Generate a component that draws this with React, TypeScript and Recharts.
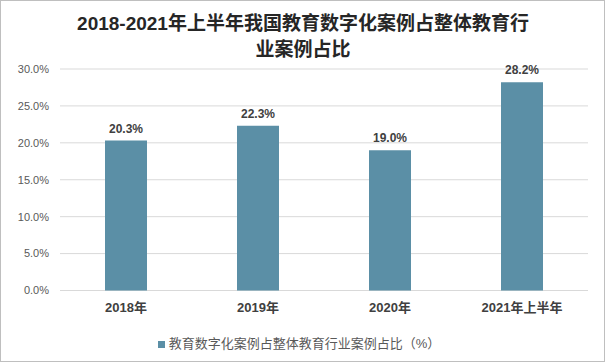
import React from 'react';
import { BarChart, Bar, XAxis, YAxis, CartesianGrid, Legend, LabelList } from 'recharts';

const categories = ['2018年', '2019年', '2020年', '2021年上半年'];
const shareValues = [20.3, 22.3, 19.0, 28.2];
const yTicks = [0, 5, 10, 15, 20, 25, 30];
const seriesName = '教育数字化案例占整体教育行业案例占比（%）';
const titleLines = ['2018-2021年上半年我国教育数字化案例占整体教育行', '业案例占比'];

const chartData = categories.map((name, i) => ({ name, value: shareValues[i] }));

const FONT = '"Liberation Sans", "Noto Sans CJK SC", sans-serif';
const BAR_COLOR = '#5b8fa6';

const App: React.FC = () => {
  return (
    <div style={{ position: 'fixed', left: 0, top: 0, width: 606, height: 364, background: '#fff', fontFamily: FONT }}>
      <div
        style={{
          position: 'absolute',
          left: 0,
          top: 0,
          width: 605,
          height: 362,
          boxSizing: 'border-box',
          border: '1px solid #bfbfbf',
        }}
      />
      <div
        style={{
          position: 'absolute',
          left: 0,
          top: 11,
          width: 606,
          textAlign: 'center',
          fontSize: 19,
          lineHeight: '26px',
          fontWeight: 'bold',
          color: '#262626',
          fontFamily: '"Liberation Sans", "Noto Sans CJK SC", sans-serif',
        }}
      >
        {titleLines[0]}
        <br />
        {titleLines[1]}
      </div>
      <BarChart
        width={606}
        height={364}
        data={chartData}
        margin={{ top: 69, right: 18, left: 0, bottom: 26.5 }}
        style={{ position: 'absolute', left: 0, top: 0 }}
      >
        <CartesianGrid vertical={false} stroke="#d9d9d9" />
        <XAxis
          dataKey="name"
          axisLine={false}
          tickLine={false}
          height={28}
          tickMargin={6}
          tick={{ fontSize: 13, fontWeight: 'bold', fill: '#404040', fontFamily: FONT }}
        />
        <YAxis
          width={60}
          domain={[0, 30]}
          ticks={yTicks}
          axisLine={false}
          tickLine={false}
          tickMargin={5}
          tickFormatter={(v: number) => `${v.toFixed(1)}%`}
          tick={{ fontSize: 11, fill: '#595959', fontFamily: FONT }}
        />
        <Legend
          iconType="square"
          iconSize={7}
          wrapperStyle={{ top: 333, left: 10, fontSize: 13 }}
          formatter={(value: string) => <span style={{ color: '#595959' }}>{value}</span>}
        />
        <Bar dataKey="value" name={seriesName} fill={BAR_COLOR} barSize={42} isAnimationActive={false}>
          <LabelList
            dataKey="value"
            position="top"
            offset={8}
            formatter={(v: number) => `${v.toFixed(1)}%`}
            style={{ fontSize: 12, fontWeight: 'bold', fill: '#404040', fontFamily: FONT }}
          />
        </Bar>
      </BarChart>
    </div>
  );
};

export default App;
